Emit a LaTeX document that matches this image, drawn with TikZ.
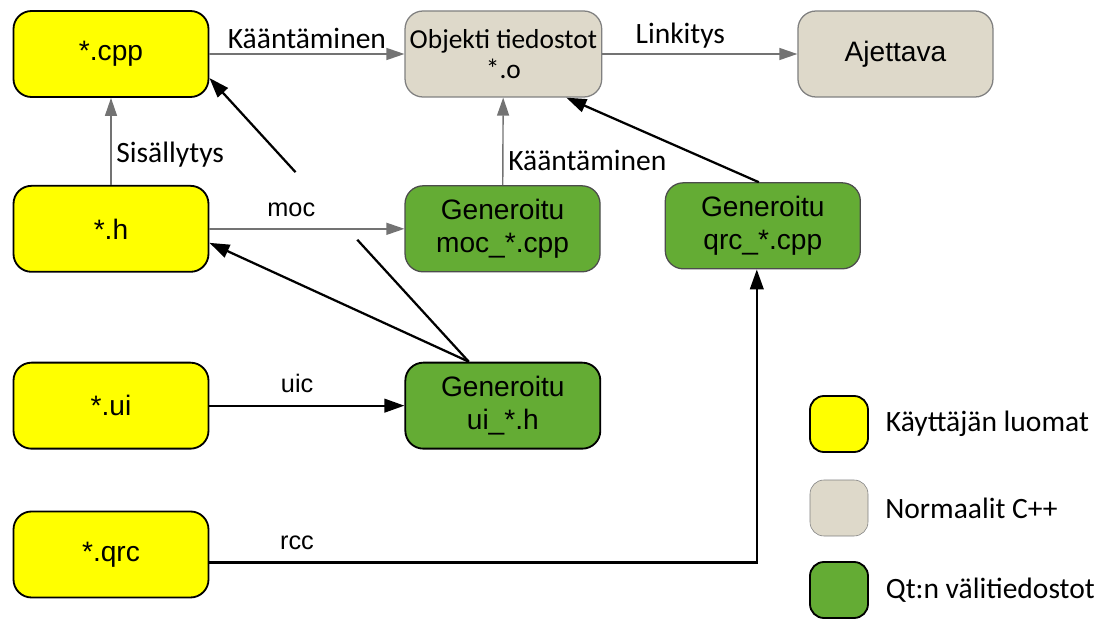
\documentclass[tikz,border=0pt]{standalone}
\usepackage{fontspec}
\setmainfont{Liberation Sans}
\newfontfamily\calibri{Carlito}
\usetikzlibrary{arrows.meta,positioning,calc}
\definecolor{userYellow}{RGB}{255,255,0}
\definecolor{stdBeige}{RGB}{222,217,202}
\definecolor{qtGreen}{RGB}{100,172,52}
\tikzset{file/.style={draw,rounded corners=4.5mm,align=center,minimum height=2.15cm,minimum width=4.875cm,font=\fontsize{20}{23}\selectfont},user/.style={file,fill=userYellow,line width=1.3pt},std/.style={file,fill=stdBeige,draw=gray,line width=0.9pt},gen/.style={file,fill=qtGreen,draw=black!70,line width=0.9pt},grayarrow/.style={-{Triangle[length=4.5mm,width=3mm]},draw=black!55,line width=1pt},blackarrow/.style={-{Triangle[length=5mm,width=3.4mm]},line width=1.6pt},lbl/.style={font=\fontsize{18}{21}\selectfont,above=5pt},fin/.style={font=\calibri\fontsize{21}{24}\selectfont},legbox/.style={draw,rounded corners=3.5mm,minimum width=1.45cm,minimum height=1.4cm}}

\begin{document}
\begin{tikzpicture}[node distance=2.175cm and 4.875cm]
\useasboundingbox (0,0) rectangle (27.7,-15.475);
\node[user] (cpp) at (2.775,-1.35) {*.cpp};
\node[std,right=of cpp,font=\calibri\fontsize{19.5}{21}\selectfont] (obj) {Objekti tiedostot\\*.o};
\node[std,right=of obj] (exe) {Ajettava};
\node[user,below=of cpp] (hdr) {*.h};
\node[gen,right=of hdr] (moccpp) {Generoitu\\moc\_*.cpp};
\node[gen,right=1.6cm of moccpp,yshift=0.075cm] (qrccpp) {Generoitu\\qrc\_*.cpp};
\node[user,below=2.225cm of hdr] (ui) {*.ui};
\node[gen,draw=black,line width=1.3pt,right=of ui] (uih) {Generoitu\\ui\_*.h};
\node[user,below=1.525cm of ui] (qrc) {*.qrc};
% legend
\node[legbox,fill=userYellow,line width=1.3pt] (leguser) at (20.975,-10.6) {};
\node[legbox,fill=stdBeige,draw=gray] (legstd) at (20.975,-12.7) {};
\node[legbox,fill=qtGreen,line width=1.3pt] (legqt) at (20.975,-14.75) {};
\node[fin,right=0.3cm of leguser] (legusertxt) {Käyttäjän luomat};
\node[fin,right=0.3cm of legstd] (legstdtxt) {Normaalit C++};
\node[fin,right=0.3cm of legqt] (legqttxt) {Qt:n välitiedostot};
% build steps
\draw[grayarrow] (cpp) -- node[fin,above]{Kääntäminen} (obj);
\draw[grayarrow] (obj) -- node[fin,above,pos=.4]{Linkitys} (exe);
\draw[grayarrow] (hdr) -- node[fin,right,pos=.35]{Sisällytys} (cpp);
\draw[grayarrow] (hdr) -- node[lbl,pos=.42]{moc} (moccpp);
\draw[grayarrow] (moccpp) -- node[fin,right,pos=.28]{Kääntäminen} (obj);
\coordinate (uitop) at ([xshift=-0.85cm]uih.north);
\coordinate (cppin) at ([yshift=-0.6cm]cpp.east);
\draw[blackarrow] (uitop) -- ([yshift=-0.35cm]hdr.east);
\draw[line width=1.6pt] (uitop) -- ($(uitop)!.43!(cppin)$);
\draw[blackarrow] ($(uitop)!.668!(cppin)$) -- (cppin);
\draw[blackarrow] ([xshift=-0.1cm]qrccpp.north) -- ([xshift=-0.9cm]obj.south east);
\draw[blackarrow] (ui) -- node[lbl,pos=.45]{uic} (uih);
\draw[blackarrow] ([yshift=-0.2cm]qrc.east) -| node[lbl,pos=.08]{rcc} ([xshift=-0.15cm]qrccpp.south);
\end{tikzpicture}
\end{document}
